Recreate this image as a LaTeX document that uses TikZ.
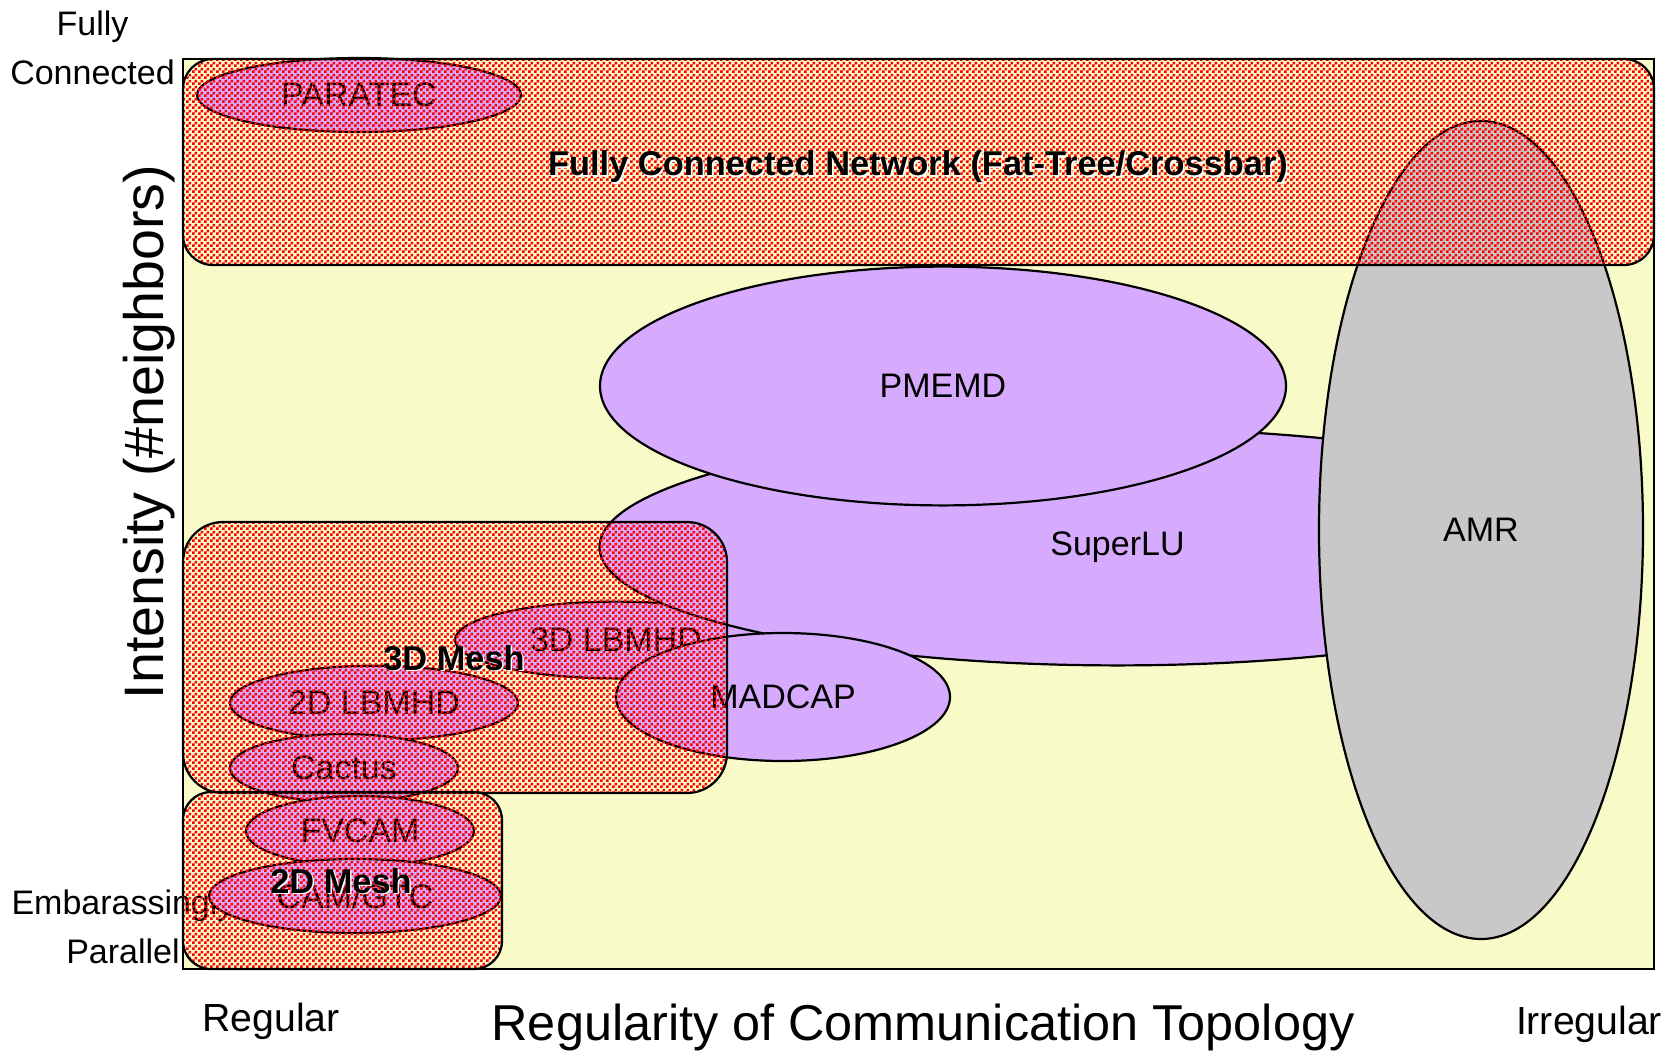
\documentclass[tikz,border=0pt]{standalone}
\usepackage{fontspec}
\setmainfont{Liberation Sans}
\usetikzlibrary{shapes.geometric,patterns}
\definecolor{bgyellow}{RGB}{248,251,200}
\definecolor{lilac}{RGB}{214,170,252}
\definecolor{amrgray}{RGB}{200,200,200}
\pgfdeclarepatternformonly{redcheck}{\pgfpointorigin}{\pgfqpoint{3pt}{3pt}}{\pgfqpoint{3pt}{3pt}}{%
  \pgfpathrectangle{\pgfpointorigin}{\pgfqpoint{1.5pt}{1.5pt}}%
  \pgfpathrectangle{\pgfqpoint{1.5pt}{1.5pt}}{\pgfqpoint{1.5pt}{1.5pt}}%
  \pgfusepath{fill}}
\tikzset{
  app/.style={ellipse, draw=black, line width=1.1pt, fill=lilac, inner sep=0pt,
    font=\fontsize{17}{20}\selectfont},
  meshbox/.style={draw=black, line width=1.1pt, pattern=redcheck, pattern color=red},
  sidelbl/.style={font=\fontsize{17}{24.5}\selectfont, align=center},
  endlbl/.style={font=\fontsize{19.6}{22}\selectfont},
  meshlbl/.style={font=\bfseries\fontsize{17.2}{20}\selectfont},
  halo/.style={meshlbl, text=white},
}
\begin{document}
\begin{tikzpicture}[x=0.5pt,y=-0.5pt]
\useasboundingbox (0,0) rectangle (1672,1051);
% plot frame
\draw[fill=bgyellow, line width=1pt] (183,59) rectangle (1654,969);
% outside labels
\node[sidelbl] (fc) at (92.5,48) {Fully\\Connected};
\node[endlbl] (reg) at (271,1021) {Regular};
\node[endlbl] (irreg) at (1589,1024) {Irregular};
\node[font=\fontsize{25.2}{28}\selectfont] (xlab) at (923,1027) {Regularity of Communication Topology};
\node[rotate=90, font=\fontsize{27.8}{30}\selectfont] (ylab) at (149,432) {Intensity (\#neighbors)};
% applications
\node[app, minimum width=162pt, minimum height=37pt] (paratec) at (359,95) {PARATEC};
\node[app, minimum width=161pt, minimum height=38.4pt] (lb3) at (616,640) {3D LBMHD};
\node[app, minimum width=518pt, minimum height=118.4pt] (superlu) at (1117.5,547) {\raisebox{-3pt}{SuperLU}};
\node[app, minimum width=343pt, minimum height=119.4pt] (pmemd) at (943,386) {PMEMD};
\node[app, minimum width=167pt, minimum height=64pt] (madcap) at (783,697) {MADCAP};
\node[app, fill=amrgray, minimum width=162pt, minimum height=409pt] (amr) at (1481,530) {AMR};
\node[app, minimum width=144pt, minimum height=37.3pt] (lb2) at (374,703) {2D LBMHD};
\node[app, minimum width=114pt, minimum height=34pt] (cactus) at (344,768) {Cactus};
\node[app, minimum width=114pt, minimum height=35pt] (fvcam) at (360,831) {FVCAM};
\node[sidelbl] (ep) at (123,927) {Embarassingly\\Parallel};
\node[app, minimum width=146pt, minimum height=37pt] (camgtc) at (355,896) {CAM/GTC};
% network regions
\draw[meshbox, rounded corners=15pt] (183,59) rectangle (1654,265);
\draw[meshbox, rounded corners=20pt] (183,522) rectangle (727,793);
\draw[meshbox, rounded corners=14pt] (183,792) rectangle (502,969);
% region labels
\node[halo] (fcnh) at (919.5,168.5) {Fully Connected Network (Fat-Tree/Crossbar)};
\node[meshlbl] (fcn) at (918,167) {Fully Connected Network (Fat-Tree/Crossbar)};
\node[halo] (m3h) at (455.5,659.5) {3D Mesh};
\node[meshlbl] (m3) at (454,658) {3D Mesh};
\node[halo] (m2h) at (342.5,882.5) {2D Mesh};
\node[meshlbl] (m2) at (341,881) {2D Mesh};
\end{tikzpicture}
\end{document}
